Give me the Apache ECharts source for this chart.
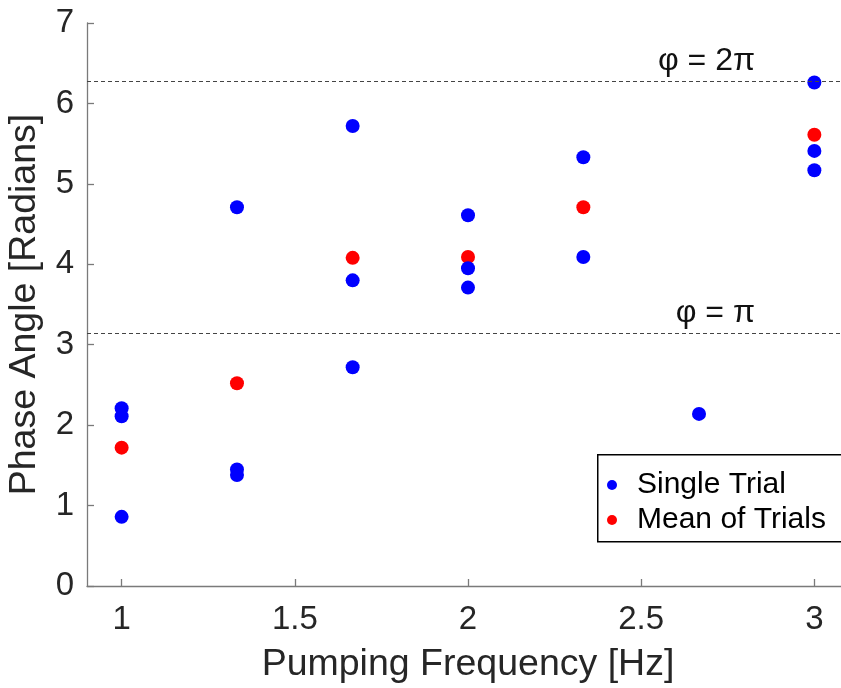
<!DOCTYPE html>
<html>
<head>
<meta charset="utf-8">
<script src="https://cdn.jsdelivr.net/npm/echarts@6/dist/echarts.min.js"></script>
<style>
  html, body { margin: 0; padding: 0; background: #fff; }
  #chart { width: 841px; height: 688px; }
</style>
</head>
<body>
<div id="chart"></div>
<script>
// ---- Data ----
const singleFreq  = [1, 1, 1, 1.333, 1.333, 1.333, 1.667, 1.667, 1.667, 2, 2, 2, 2.333, 2.333, 2.667, 3, 3, 3];
const singlePhase = [2.21, 2.11, 0.86, 4.71, 1.45, 1.38, 5.72, 3.80, 2.72, 4.61, 3.95, 3.71, 5.33, 4.09, 2.14, 6.26, 5.41, 5.17];
const meanFreq  = [1, 1.333, 1.667, 2, 2.333, 3];
const meanPhase = [1.72, 2.52, 4.08, 4.09, 4.71, 5.61];
const xTicks = [1, 1.5, 2, 2.5, 3];
const refLines = [ { value: 2 * Math.PI, label: 'φ = 2π' }, { value: Math.PI, label: 'φ = π' } ];
const seriesNames = ['Single Trial', 'Mean of Trials'];

const FONT = '"Liberation Sans", Arial, Helvetica, sans-serif';
const TXT = '#262626';
const AX = '#7a7a7a';

const pairs = (xs, ys) => xs.map((x, i) => [x, ys[i]]);

const chart = echarts.init(document.getElementById('chart'), null, { renderer: 'canvas' });
chart.setOption({
  animation: false,
  backgroundColor: '#ffffff',
  textStyle: { fontFamily: FONT },
  grid: { left: 87, top: 23, width: 762, height: 563, containLabel: false, outerBoundsMode: 'none' },
  xAxis: {
    type: 'value', min: 0.9, max: 3.1,
    name: 'Pumping Frequency [Hz]', nameLocation: 'middle', nameGap: 60,
    nameTextStyle: { fontSize: 37.5, color: TXT, fontFamily: FONT },
    axisLine: { show: true, onZero: false, lineStyle: { color: AX, width: 1.3 } },
    axisTick: { show: true, inside: true, length: 7, customValues: xTicks, lineStyle: { color: AX, width: 1.3 } },
    axisLabel: { customValues: xTicks, margin: 17, fontSize: 33, color: TXT, fontFamily: FONT,
      formatter: v => String(v) },
    splitLine: { show: false }
  },
  yAxis: {
    type: 'value', min: 0, max: 7, interval: 1,
    name: 'Phase Angle [Radians]', nameLocation: 'middle', nameGap: 43, nameRotate: 90,
    nameTextStyle: { fontSize: 37.5, color: TXT, fontFamily: FONT },
    axisLine: { show: true, onZero: false, lineStyle: { color: AX, width: 1.3 } },
    axisTick: { show: true, inside: true, length: 7, lineStyle: { color: AX, width: 1.3 } },
    axisLabel: { margin: 13, fontSize: 33, color: TXT, fontFamily: FONT },
    splitLine: { show: false }
  },
  graphic: [{
    type: 'rect', left: 597, top: 454, z: 10, silent: true,
    shape: { width: 270, height: 87 },
    style: { fill: '#ffffff', stroke: '#000000', lineWidth: 1.5 }
  }],
  legend: {
    data: seriesNames,
    orient: 'vertical',
    left: 597, top: 454, z: 20,
    backgroundColor: 'transparent',
    borderWidth: 0,
    padding: [16, 10, 7, 10],
    itemGap: 5,
    itemWidth: 20, itemHeight: 10,
    icon: 'circle',
    textStyle: { fontSize: 30, color: '#000', fontFamily: FONT, lineHeight: 30, padding: [0, 0, 0, 10] }
  },
  series: [
    {
      name: seriesNames[1], type: 'scatter', z: 2,
      symbol: 'circle', symbolSize: 14,
      itemStyle: { color: '#ff0000', opacity: 1 },
      data: pairs(meanFreq, meanPhase),
      markLine: {
        silent: true, symbol: ['none', 'none'],
        lineStyle: { color: '#444', type: [4, 3], width: 1.2 },
        label: { show: true, position: 'insideEndTop', distance: [94, 4],
          fontSize: 32, color: '#111', fontFamily: FONT, formatter: p => p.name },
        data: refLines.map(r => ({ yAxis: r.value, name: r.label }))
      }
    },
    {
      name: seriesNames[0], type: 'scatter', z: 3,
      symbol: 'circle', symbolSize: 14,
      itemStyle: { color: '#0000ff', opacity: 1 },
      data: pairs(singleFreq, singlePhase)
    }
  ]
});
</script>
</body>
</html>
